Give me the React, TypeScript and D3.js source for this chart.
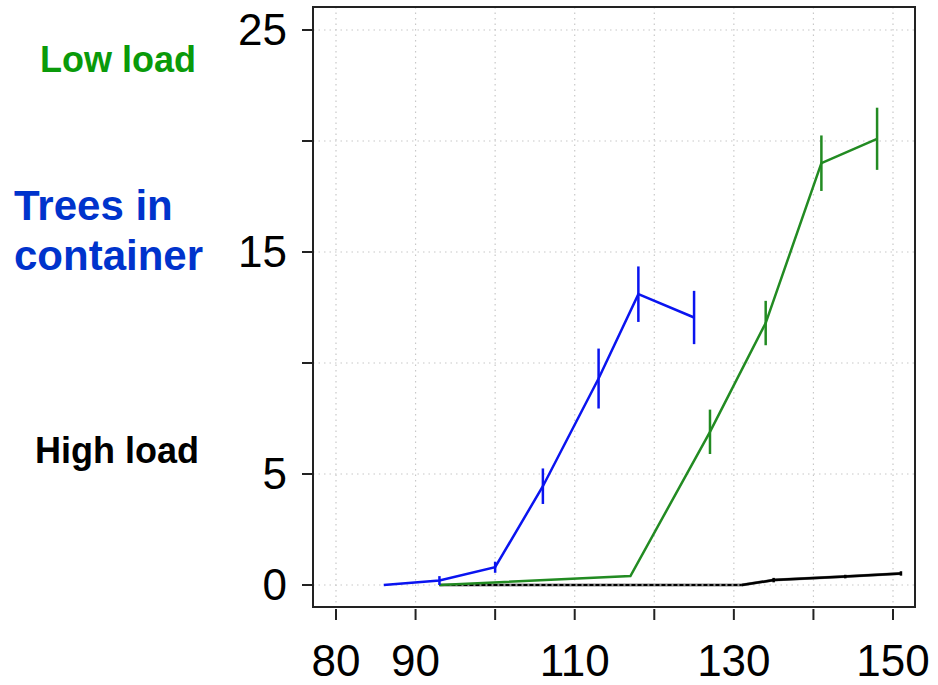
import React from "react";
import * as d3 from "d3";

// days after germination (x) and mean number (y) with error half-widths
const containerDays = [86, 93, 100, 106, 113, 118, 125];
const containerMean = [0, 0.2, 0.8, 4.45, 9.3, 13.1, 12.05];
const containerErr = [0, 0.2, 0.25, 0.8, 1.35, 1.25, 1.2];

const lowDays = [93, 117, 127, 134, 141, 148];
const lowMean = [0, 0.4, 6.9, 11.8, 19.0, 20.1];
const lowErr = [0, 0, 1.0, 1.0, 1.25, 1.4];

const highDays = [93, 100, 106, 113, 118, 125, 131, 135, 144, 151];
const highMean = [0, 0, 0, 0, 0, 0, 0, 0.22, 0.38, 0.52];
const highErr = [0, 0, 0, 0, 0, 0, 0, 0.1, 0.08, 0.1];

const xTicks = [80, 90, 100, 110, 120, 130, 140, 150];
const xTickLabels = ["80", "90", "", "110", "", "130", "", "150"];
const yTicks = [0, 5, 10, 15, 20, 25];
const yTickLabels = ["0", "5", "", "15", "", "25"];

const W = 938;
const H = 685;
const box = { left: 313, right: 915, top: 7, bottom: 607 };

export default function App() {
  const x = d3.scaleLinear().domain([80, 150]).range([336, 893]);
  const y = d3.scaleLinear().domain([0, 25]).range([585, 30]);

  const line = d3
    .line<[number, number]>()
    .x((d) => x(d[0]))
    .y((d) => y(d[1]));

  const series = (days: number[], mean: number[]) =>
    days.map((d, i) => [d, mean[i]] as [number, number]);

  const errBars = (days: number[], mean: number[], err: number[], color: string, w: number) =>
    days.map((d, i) =>
      err[i] > 0 ? (
        <line
          key={i}
          x1={x(d)}
          x2={x(d)}
          y1={y(mean[i] - err[i])}
          y2={y(mean[i] + err[i])}
          stroke={color}
          strokeWidth={w}
        />
      ) : null
    );

  const blue = "#0a14f0";
  const green = "#228b22";

  return (
    <svg
      width={W}
      height={H}
      style={{ position: "absolute", left: 0, top: 0 }}
      fontFamily="'Liberation Sans', Arial, sans-serif"
    >
      <rect width={W} height={H} fill="#fff" />
      {/* grid */}
      <g stroke="#c8c8c8" strokeWidth={1.2} strokeDasharray="1.5,4">
        {xTicks.map((t) => (
          <line key={"gx" + t} x1={x(t)} x2={x(t)} y1={box.top} y2={box.bottom} />
        ))}
        {yTicks.map((t) => (
          <line key={"gy" + t} x1={box.left} x2={box.right} y1={y(t)} y2={y(t)} />
        ))}
      </g>

      {/* high load */}
      <path d={line(series(highDays, highMean)) || ""} fill="none" stroke="#888" strokeWidth={3} />
      <path
        d={line(series(highDays.slice(0, 7), highMean.slice(0, 7))) || ""}
        fill="none"
        stroke="#000"
        strokeWidth={2}
        strokeDasharray="4,2"
      />
      <path
        d={line(series(highDays.slice(6), highMean.slice(6))) || ""}
        fill="none"
        stroke="#000"
        strokeWidth={2.5}
      />
      {errBars(highDays, highMean, highErr, "#000", 2.5)}

      {/* low load */}
      <path d={line(series(lowDays, lowMean)) || ""} fill="none" stroke={green} strokeWidth={2.5} />
      {errBars(lowDays, lowMean, lowErr, green, 2.5)}

      {/* trees in container */}
      <path
        d={line(series(containerDays, containerMean)) || ""}
        fill="none"
        stroke={blue}
        strokeWidth={2.5}
      />
      {errBars(containerDays, containerMean, containerErr, blue, 2.5)}

      {/* box */}
      <rect
        x={box.left}
        y={box.top}
        width={box.right - box.left}
        height={box.bottom - box.top}
        fill="none"
        stroke="#222"
        strokeWidth={2}
      />

      {/* y axis */}
      {yTicks.map((t, i) => (
        <g key={"yt" + t}>
          <line x1={box.left - 11} x2={box.left} y1={y(t)} y2={y(t)} stroke="#222" strokeWidth={2} />
          <text x={287} y={y(t) + 15} textAnchor="end" fontSize={44} fill="#000">
            {yTickLabels[i]}
          </text>
        </g>
      ))}

      {/* x axis */}
      {xTicks.map((t, i) => (
        <g key={"xt" + t}>
          <line x1={x(t)} x2={x(t)} y1={box.bottom + 2} y2={box.bottom + 13} stroke="#222" strokeWidth={2} />
          <text x={x(t)} y={676} textAnchor="middle" fontSize={44} fill="#000">
            {xTickLabels[i]}
          </text>
        </g>
      ))}

      {/* labels */}
      <text x={40} y={72} fontSize={36} fontWeight="bold" fill="#0a9a0a">
        Low load
      </text>
      <text x={14} y={220} fontSize={42} fontWeight="bold" fill="#0033cc">
        Trees in
      </text>
      <text x={14} y={270} fontSize={42} fontWeight="bold" fill="#0033cc">
        container
      </text>
      <text x={35} y={463} fontSize={36} fontWeight="bold" fill="#000">
        High load
      </text>
    </svg>
  );
}
